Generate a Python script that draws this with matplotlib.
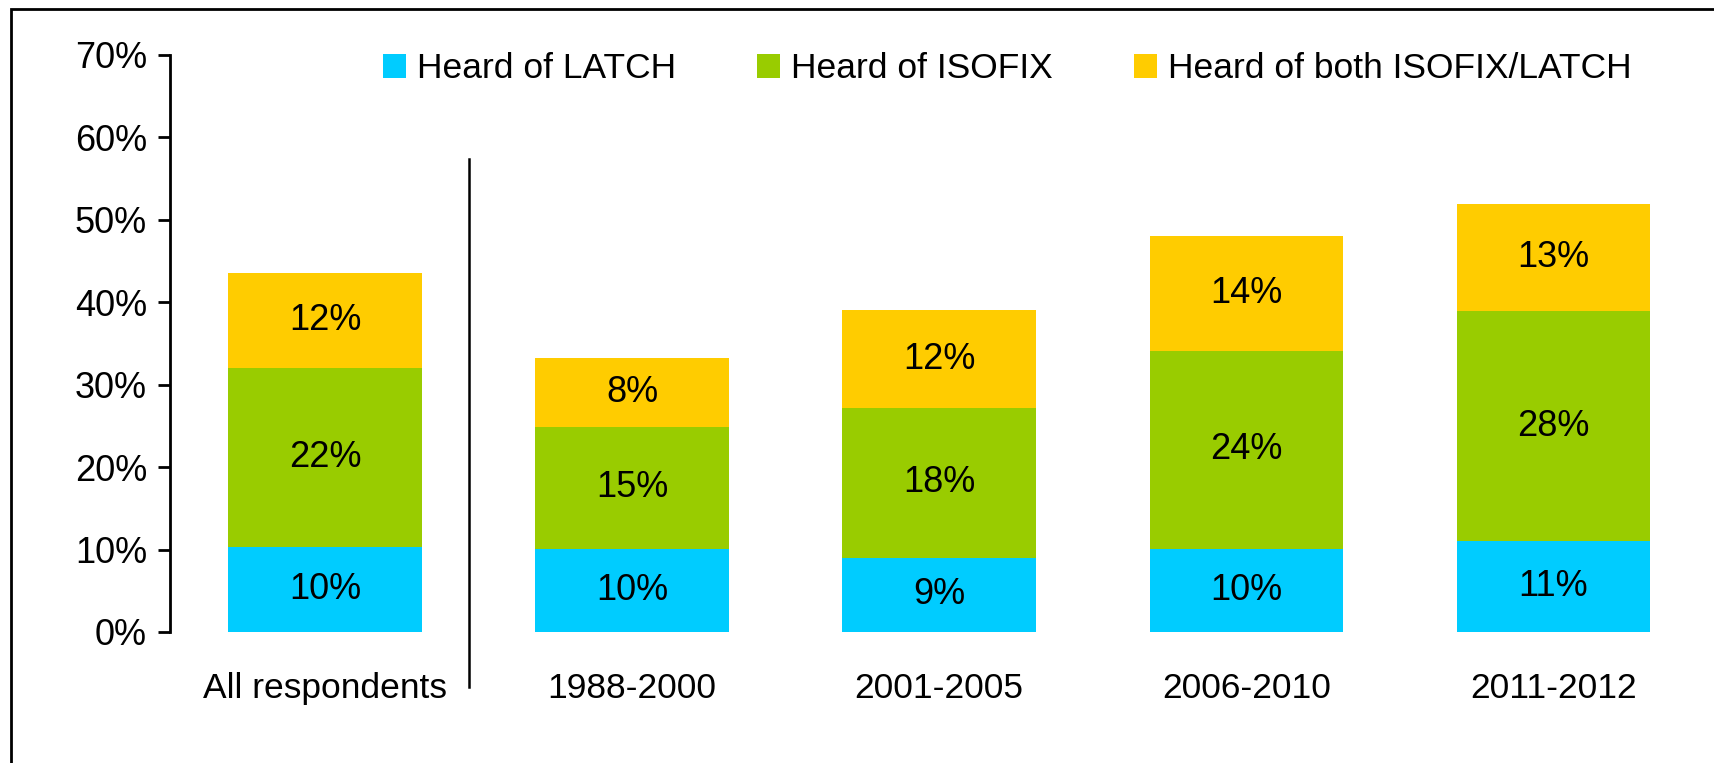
import matplotlib
matplotlib.use("Agg")
import matplotlib.pyplot as plt
from matplotlib.patches import Rectangle
import numpy as np

# Dados (percentual de respondentes)
categories = ["All respondents", "1988-2000", "2001-2005", "2006-2010", "2011-2012"]
latch = [10.3, 10.1, 9.0, 10.1, 11.0]
isofix = [21.7, 14.8, 18.2, 24.0, 27.9]
both = [11.6, 8.3, 11.8, 13.9, 13.0]
series_names = ["Heard of LATCH", "Heard of ISOFIX", "Heard of both ISOFIX/LATCH"]
colors = ["#00CCFF", "#99CC00", "#FFCC00"]
yticks = [0, 10, 20, 30, 40, 50, 60, 70]

plt.rcParams["font.family"] = ["Liberation Sans", "DejaVu Sans"]
FS = 26      # rotulos das barras e eixo y
FS_CAT = 25.5  # categorias e legenda

fig = plt.figure(figsize=(17.15, 7.63), dpi=100)
ax = fig.add_axes([0.0991, 0.1717, 0.8962, 0.7563])

x = np.arange(len(categories))
bottom = np.zeros(len(categories))
for vals, name, col in zip([latch, isofix, both], series_names, colors):
    bars = ax.bar(x, vals, width=0.63, bottom=bottom, color=col, label=name)
    ax.bar_label(bars, labels=[f"{round(v)}%" for v in vals],
                 label_type="center", fontsize=FS)
    bottom += np.array(vals)

ax.set_xlim(-0.505, 4.5)
ax.set_ylim(0, 70)
ax.set_yticks(yticks)
ax.set_yticklabels([f"{t}%" for t in yticks], fontsize=FS)
ax.set_xticks(x)
ax.set_xticklabels(categories, fontsize=FS_CAT)
ax.tick_params(axis="x", length=0, pad=29)
ax.tick_params(axis="y", length=8.5, width=2, pad=8, direction="out")

for s in ["top", "right", "bottom"]:
    ax.spines[s].set_visible(False)
ax.spines["left"].set_linewidth(2)

# Linha separadora entre "All respondents" e as faixas de ano
ax.axvline(0.47, ymin=-0.095, ymax=0.82, color="black", lw=1.8, clip_on=False)

fig.legend(loc="center left", bbox_to_anchor=(0.215, 0.91), ncol=3,
           frameon=False, fontsize=FS_CAT, handlelength=0.65, handleheight=0.65,
           handletextpad=0.3, columnspacing=2.3, borderaxespad=0)

# Moldura ao redor da figura
fig.patches.append(Rectangle((11 / 1715, -0.1), 1.2, 0.988 + 0.1,
                             transform=fig.transFigure, fill=False,
                             edgecolor="black", lw=2))

fig.savefig("out.png", dpi=100)
